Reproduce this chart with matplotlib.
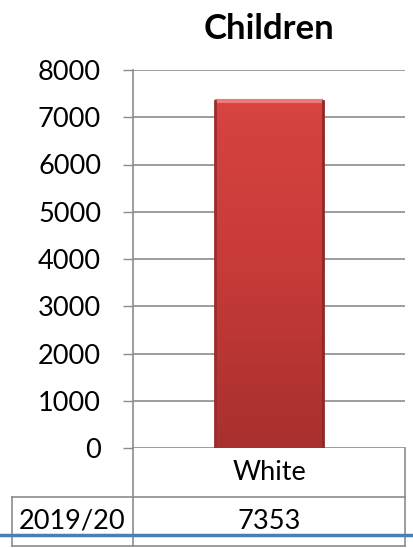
import numpy as np
import matplotlib
matplotlib.use("Agg")
import matplotlib.pyplot as plt
from matplotlib.lines import Line2D
from matplotlib.colors import LinearSegmentedColormap

categories = ["White"]
values = [7353]
row_label = "2019/20"
title = "Children"
y_ticks = [0, 1000, 2000, 3000, 4000, 5000, 6000, 7000, 8000]

plt.rcParams['font.family'] = ['Lato', 'DejaVu Sans']
GRID = '#8c8c8c'

W, H = 413, 548
fig = plt.figure(figsize=(W / 100, H / 100), dpi=100)
ax = fig.add_axes([133 / W, 1 - 448 / H, 272 / W, 378 / H])

x = np.arange(len(categories))
bars = ax.bar(x, values, width=0.4, color='none', edgecolor='none', zorder=3)

# gradient fill clipped to each bar
cmap = LinearSegmentedColormap.from_list('red', ['#a8302e', '#c63a38', '#d74441'])
for b in bars:
    x0, w, h = b.get_x(), b.get_width(), b.get_height()
    grad = np.linspace(0, 1, 256).reshape(-1, 1)
    img = ax.imshow(grad, cmap=cmap, origin='lower', aspect='auto',
                    extent=[x0, x0 + w, 0, h], zorder=3)
    img.set_clip_path(b)
    # bevel edges
    ax.plot([x0, x0 + w], [h, h], color='#ee7a76', lw=3, zorder=4, solid_capstyle='butt')
    ax.plot([x0, x0], [0, h], color='#9a2c2a', lw=2, zorder=4)
    ax.plot([x0 + w, x0 + w], [0, h], color='#8e2826', lw=2, zorder=4)

ax.set_xlim(-0.5, len(categories) - 0.5)
ax.set_ylim(0, 8000)
ax.set_yticks(y_ticks)
ax.set_yticklabels([str(t) for t in y_ticks], fontsize=19.5)
ax.tick_params(axis='y', direction='out', length=7, color=GRID, width=1, pad=16)
ax.set_xticks([])
ax.yaxis.grid(True, color=GRID, lw=1.2, zorder=0)
ax.set_axisbelow(True)
for s in ['top', 'right', 'bottom']:
    ax.spines[s].set_visible(False)
ax.spines['left'].set_color(GRID)
ax.spines['left'].set_linewidth(1.2)

ax.set_title(title, fontsize=25, fontweight='bold', pad=22, x=0.5)

# data table below the axis
rh = 49 / 378  # row height in axes units
lx = -121 / 272  # left edge of row label column
lk = dict(color=GRID, lw=1.2, transform=ax.transAxes, clip_on=False)
ax.add_line(Line2D([0, 0], [0, -2 * rh], **lk))
ax.add_line(Line2D([1, 1], [0, -2 * rh], **lk))
ax.add_line(Line2D([lx, lx], [-rh, -2 * rh], **lk))
ax.add_line(Line2D([lx, 1], [-rh, -rh], **lk))
ax.add_line(Line2D([lx, 1], [-2 * rh, -2 * rh], **lk))
for i, (c, v) in enumerate(zip(categories, values)):
    xc = (i + 0.5) / len(categories)
    ax.text(xc, -rh / 2, c, transform=ax.transAxes, ha='center', va='center', fontsize=19.5)
    ax.text(xc, -1.5 * rh, str(v), transform=ax.transAxes, ha='center', va='center', fontsize=19.5)
ax.text(lx / 2, -1.5 * rh, row_label, transform=ax.transAxes, ha='center', va='center', fontsize=19.5)

# blue rule across the bottom
fig.add_artist(Line2D([0, 1], [1 - 535 / H, 1 - 535 / H], color='#4a7ebb', lw=2.5,
                      transform=fig.transFigure))

fig.savefig("out.png", dpi=100)
